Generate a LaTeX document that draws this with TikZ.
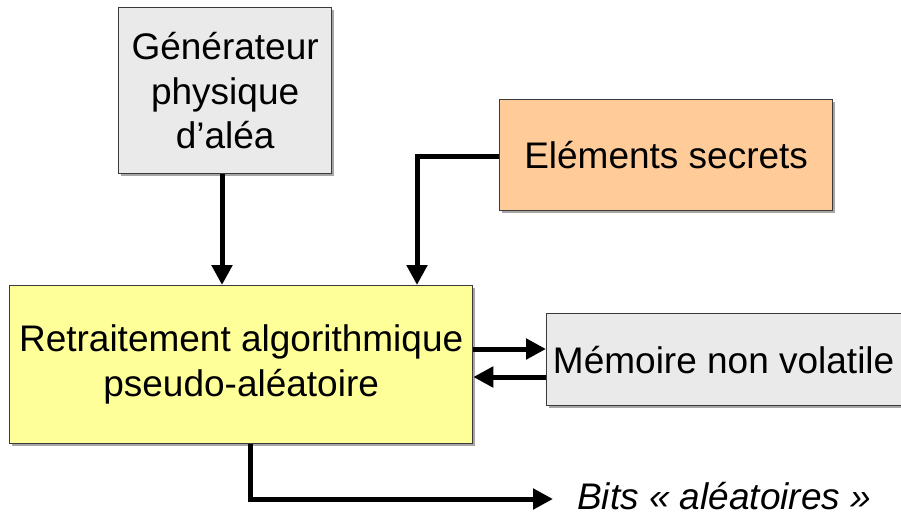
\documentclass[tikz,border=0pt]{standalone}
\usepackage{fontspec}
\setmainfont{Liberation Sans}
\usetikzlibrary{arrows.meta,shadows}
\definecolor{boxgray}{HTML}{EAEAEA}
\definecolor{boxorange}{HTML}{FFCC99}
\definecolor{boxyellow}{HTML}{FFFF99}
\definecolor{edgegray}{HTML}{3A3A3A}
\tikzset{
  box/.style={draw=edgegray, line width=1.3pt, rectangle, inner sep=0pt, align=center,
    font=\fontsize{37}{44.5}\selectfont, anchor=north west,
    drop shadow={shadow xshift=2pt, shadow yshift=-2pt, fill=gray!70, opacity=1}},
  conn/.style={line width=5pt, line join=miter, -{Triangle[length=20pt,width=20pt]}},
}
\begin{document}
\begin{tikzpicture}[x=1pt,y=-1pt]
\useasboundingbox (0,0) rectangle (901,515);
\node[box, fill=boxgray, minimum width=213pt, minimum height=166pt] (gen) at (118,7)
  {Générateur\\physique\\d’aléa};
\node[box, fill=boxorange, minimum width=333pt, minimum height=111pt] (sec) at (499,99)
  {Eléments secrets};
\node[box, fill=boxyellow, minimum width=463pt, minimum height=158pt] (ret) at (9,285)
  {Retraitement algorithmique\\pseudo-aléatoire};
\node[box, fill=boxgray, minimum width=358pt, minimum height=92pt] (mem) at (546,313)
  {\hspace*{-4pt}Mémoire non volatile};
\node[anchor=base west, inner sep=0pt, font=\fontsize{37}{44.5}\selectfont\itshape] (bits) at (577,509)
  {Bits «~aléatoires~»};
\coordinate (bend1) at (417,156);
\coordinate (bend2) at (250,499);
\coordinate (bitsend) at (553,499);
\draw[conn] (gen.south -| 222,0) -- (ret.north -| 222,0);
\draw[conn] (sec.west |- bend1) -- (bend1) -- (ret.north -| bend1);
\draw[conn] (ret.east |- 0,349) -- (mem.west |- 0,349);
\draw[conn] (mem.west |- 0,377) -- (ret.east |- 0,377);
\draw[conn] (ret.south -| bend2) -- (bend2) -- (bitsend);
\end{tikzpicture}
\end{document}
